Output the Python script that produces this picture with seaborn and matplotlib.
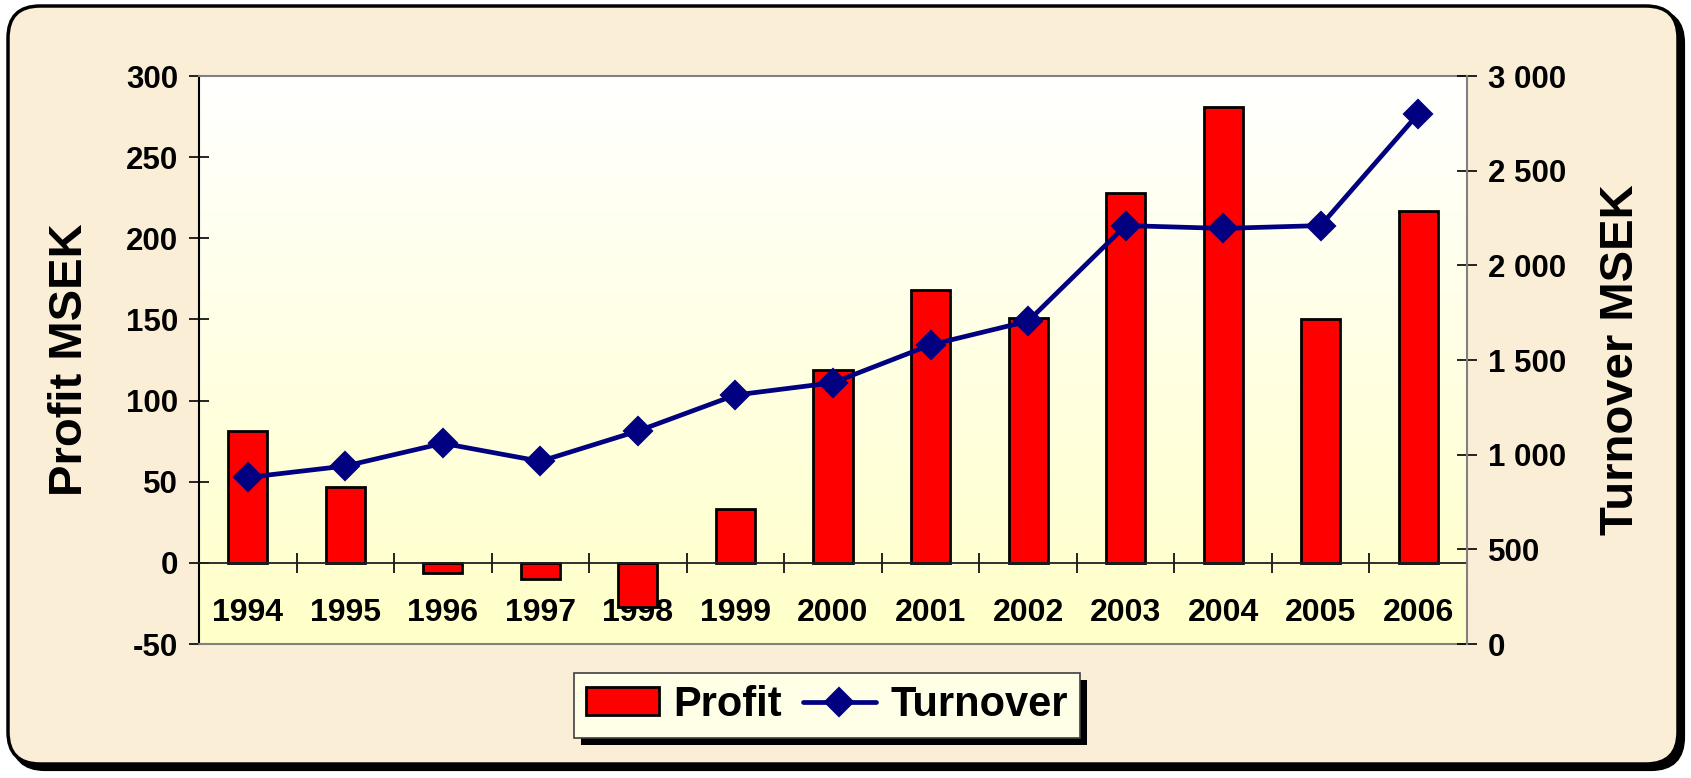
import numpy as np
import matplotlib
matplotlib.use("Agg")
import matplotlib.pyplot as plt
import seaborn as sns
from matplotlib.colors import LinearSegmentedColormap
from matplotlib.patches import FancyBboxPatch, Rectangle
from matplotlib.lines import Line2D
from matplotlib.transforms import IdentityTransform

# ---- data ----
years = ["1994", "1995", "1996", "1997", "1998", "1999", "2000",
         "2001", "2002", "2003", "2004", "2005", "2006"]
profit = [81, 47, -6, -10, -27, 33, 119, 168, 151, 228, 281, 150, 217]
turnover = [880, 940, 1060, 965, 1125, 1315, 1380, 1580, 1705, 2210, 2195, 2210, 2800]
profit_ticks = [-50, 0, 50, 100, 150, 200, 250, 300]
turnover_ticks = [0, 500, 1000, 1500, 2000, 2500, 3000]

sns.set_theme(style="white")
plt.rcParams["font.family"] = ["Liberation Sans", "DejaVu Sans"]
plt.rcParams["font.weight"] = "bold"
plt.rcParams["axes.labelweight"] = "bold"
plt.rcParams["text.color"] = "black"
plt.rcParams["axes.labelcolor"] = "black"
plt.rcParams["xtick.color"] = "black"
plt.rcParams["ytick.color"] = "black"
plt.rcParams["xtick.labelcolor"] = "black"
plt.rcParams["ytick.labelcolor"] = "black"

W, H = 1691, 778
fig = plt.figure(figsize=(W / 100, H / 100), dpi=100)
fig.patch.set_facecolor("white")

# rounded parchment frame with shadow
ident = IdentityTransform()
fx0, fy0, fx1, fy1 = 8, 14, 1678, 772
shadow = FancyBboxPatch((fx0 + 5, fy0 - 5), fx1 - fx0, fy1 - fy0,
                        boxstyle="round,pad=0,rounding_size=32",
                        transform=ident, facecolor="black", edgecolor="black",
                        lw=3, zorder=-10)
frame = FancyBboxPatch((fx0, fy0), fx1 - fx0, fy1 - fy0,
                       boxstyle="round,pad=0,rounding_size=32",
                       transform=ident, facecolor="#FAEED6", edgecolor="black",
                       lw=2.5, zorder=-9)
fig.add_artist(shadow)
fig.add_artist(frame)

# plot area
ax = fig.add_axes([199 / W, 134 / H, 1268 / W, 568 / H])
ax.set_facecolor("none")
grad = np.linspace(0, 1, 256).reshape(-1, 1)
cmap = LinearSegmentedColormap.from_list("bg", ["#FFFFC8", "#FFFFFF"])
ax.imshow(grad, extent=[0, 1, 0, 1], transform=ax.transAxes, cmap=cmap,
          aspect="auto", origin="lower", zorder=0, interpolation="bilinear")

sns.barplot(x=years, y=profit, ax=ax, color="#FF0000", saturation=1,
            edgecolor="black", linewidth=2, width=0.4, zorder=2)

ax2 = ax.twinx()
sns.pointplot(x=years, y=turnover, ax=ax2, color="#000080", markers="D",
              markersize=13, linewidth=3.4, errorbar=None)

ax.set_xlim(-0.5, 12.5)
ax.set_ylim(-50, 300)
ax2.set_ylim(0, 3000)

# y axes
ax.set_yticks(profit_ticks)
ax.set_yticklabels([str(v) for v in profit_ticks])
ax.tick_params(axis="y", direction="inout", length=14, width=1.2, color="black",
               labelsize=22.5, pad=8, left=True, labelleft=True)
ax2.set_yticks(turnover_ticks)
ax2.set_yticklabels([f"{v:,}".replace(",", " ") for v in turnover_ticks])
ax2.tick_params(axis="y", direction="inout", length=14, width=1.2, color="black",
                labelsize=22.5, pad=8, right=True, labelright=True)

# x axis at zero
ax.set_xticks(range(len(years)))
ax.set_xticklabels(years)
ax.tick_params(axis="x", which="major", length=0, pad=25, labelsize=23,
               bottom=True)
ax.set_xticks(np.arange(0.5, len(years) - 1, 1), minor=True)
ax.tick_params(axis="x", which="minor", direction="inout", length=14,
               width=1.2, color="black", bottom=True)
ax.spines["bottom"].set_position(("data", 0))
ax.spines["bottom"].set_color("#202020")
ax.spines["bottom"].set_linewidth(1.3)
ax.spines["left"].set_color("black")
ax.spines["left"].set_linewidth(1.5)
ax.spines["top"].set_color("#808080")
ax.spines["top"].set_linewidth(1.5)
ax.spines["right"].set_visible(False)
for s in ["top", "left", "bottom"]:
    ax2.spines[s].set_visible(False)
ax2.spines["right"].set_color("#808080")
ax2.spines["right"].set_linewidth(1.5)
ax.add_line(Line2D([0, 1], [0, 0], transform=ax.transAxes, color="#808080",
                   lw=1.5, clip_on=False, zorder=3))
ax.set_xlabel("")

ax.set_ylabel("Profit MSEK", fontsize=34, fontweight="bold", color="black")
ax.yaxis.set_label_coords(-0.0844, 0.5)
ax2.set_ylabel("Turnover MSEK", fontsize=34, fontweight="bold", rotation=90,
               color="black")
ax2.yaxis.set_label_coords(1.104, 0.5)

# legend
handles = [ax.containers[0], ax2.lines[0]]
leg = fig.legend(handles, ["Profit", "Turnover"], loc="center",
                 bbox_to_anchor=(827 / W, 73 / H), ncol=2, fontsize=30,
                 frameon=True, fancybox=False, handlelength=1.75,
                 handleheight=0.65, handletextpad=0.35, columnspacing=0.5,
                 borderpad=0.3, borderaxespad=0, labelcolor="black")
leg.get_frame().set_facecolor("#FFFFE8")
leg.get_frame().set_edgecolor("#404040")
leg.get_frame().set_linewidth(1.2)
leg.get_frame().set_alpha(1)
fig.canvas.draw()
bb = leg.get_window_extent()
fig.add_artist(Rectangle((bb.x0 + 7, bb.y0 - 7), bb.width, bb.height,
                         transform=ident, facecolor="black", edgecolor="none",
                         zorder=leg.get_zorder() - 0.5))

fig.savefig("out.png", dpi=100, facecolor="white")
